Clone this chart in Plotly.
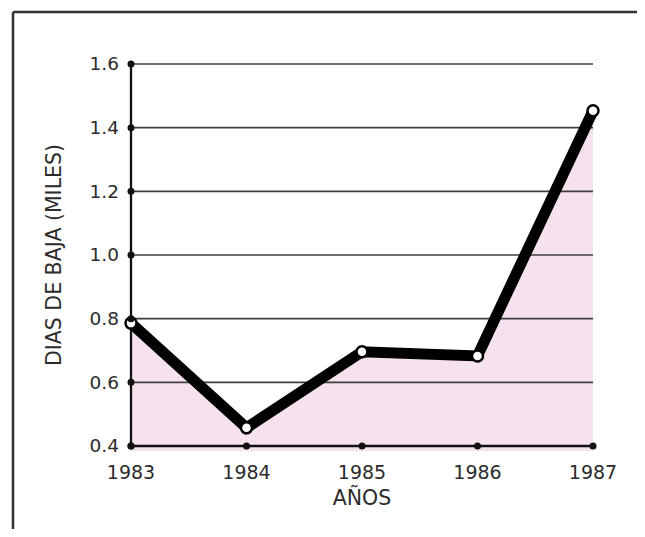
import plotly.graph_objects as go

years = [1983, 1984, 1985, 1986, 1987]
dias_baja = [0.786, 0.457, 0.696, 0.683, 1.453]
y_ticks = [0.4, 0.6, 0.8, 1.0, 1.2, 1.4, 1.6]
y_tick_labels = ["0.4", "0.6", "0.8", "1.0", "1.2", "1.4", "1.6"]
x_tick_labels = ["1983", "1984", "1985", "1986", "1987"]

FONT = "DejaVu Sans"
TXT = "#2b2b2b"

# plot geometry (pixels) -- the page body adds an 8px margin all round
PAD = 5
L, R, T, B = 123, 44, 56, 83
W, H = 629, 521
px_per_year = (W - L - R) / (years[-1] - years[0])
px_per_unit = (H - T - B) / (y_ticks[-1] - y_ticks[0])
xpad = PAD / px_per_year
ypad = PAD / px_per_unit
pw = W - L - R + 2 * PAD
ph = H - T - B + 2 * PAD
# frame position in paper coords (page px 13 left, 12 top)
frame_x = (13 - 8 - (L - PAD)) / pw
frame_y = (H - (B - PAD) - (12 - 8)) / ph

fig = go.Figure()

# pink fill under the series
fig.add_trace(go.Scatter(
    x=years, y=dias_baja, mode="lines",
    fill="tozeroy", fillcolor="#f6e2ef",
    line=dict(color="rgba(0,0,0,0)", width=0),
    hoverinfo="skip", showlegend=False,
))

# horizontal rules drawn over the fill, under the line
gx, gy = [], []
for v in y_ticks[1:]:
    gx += [years[0], years[-1], None]
    gy += [v, v, None]
fig.add_trace(go.Scatter(
    x=gx, y=gy, mode="lines",
    line=dict(color="#3f3f3f", width=1.6),
    hoverinfo="skip", showlegend=False,
))
# axes: baseline and vertical axis
fig.add_trace(go.Scatter(
    x=[years[-1], years[0], years[0]], y=[y_ticks[0], y_ticks[0], y_ticks[-1]], mode="lines",
    line=dict(color="#111", width=2.3),
    hoverinfo="skip", showlegend=False,
))

# thick line + hollow markers
fig.add_trace(go.Scatter(
    x=years, y=dias_baja, mode="lines+markers",
    line=dict(color="#000000", width=11),
    marker=dict(size=11, color="white", line=dict(color="black", width=2.5)),
    cliponaxis=False, hoverinfo="skip", showlegend=False,
))

# tick dots on the y axis
fig.add_trace(go.Scatter(
    x=[years[0]] * len(y_ticks), y=y_ticks, mode="markers",
    marker=dict(size=7, color="#111"), cliponaxis=False,
    hoverinfo="skip", showlegend=False,
))
# tick dots on the x axis
fig.add_trace(go.Scatter(
    x=years, y=[y_ticks[0]] * len(years), mode="markers",
    marker=dict(size=7, color="#111"), cliponaxis=False,
    hoverinfo="skip", showlegend=False,
))

fig.update_layout(
    width=W, height=H,
    margin=dict(l=L - PAD, r=R - PAD, t=T - PAD, b=B - PAD),
    paper_bgcolor="white", plot_bgcolor="white",
    font=dict(family=FONT, color=TXT, size=19),
    xaxis=dict(
        range=[years[0] - xpad, years[-1] + xpad], tickvals=years, ticktext=x_tick_labels,
        showgrid=False, zeroline=False, showline=False,
        ticks="", ticklabelstandoff=8,
        tickfont=dict(size=19, family=FONT, color=TXT),
        title=dict(text="AÑOS", standoff=8, font=dict(size=20.5, family=FONT, color=TXT)),
        fixedrange=True,
    ),
    yaxis=dict(
        range=[y_ticks[0] - ypad, y_ticks[-1] + ypad], tickvals=y_ticks, ticktext=y_tick_labels,
        showgrid=False, zeroline=False, showline=False,
        ticks="", ticklabelstandoff=6,
        tickfont=dict(size=18.5, family=FONT, color=TXT),
        title=dict(text="DIAS DE BAJA (MILES)", standoff=22,
                   font=dict(size=20.5, family=FONT, color=TXT)),
        fixedrange=True,
    ),
    shapes=[
        dict(type="line", xref="paper", yref="paper", x0=frame_x, x1=1.5, y0=frame_y, y1=frame_y,
             line=dict(color="#333", width=2.5)),
        dict(type="line", xref="paper", yref="paper", x0=frame_x, x1=frame_x, y0=frame_y, y1=-0.5,
             line=dict(color="#333", width=2.5)),
    ],
)

fig.write_html("out.html", config={"displayModeBar": False})
